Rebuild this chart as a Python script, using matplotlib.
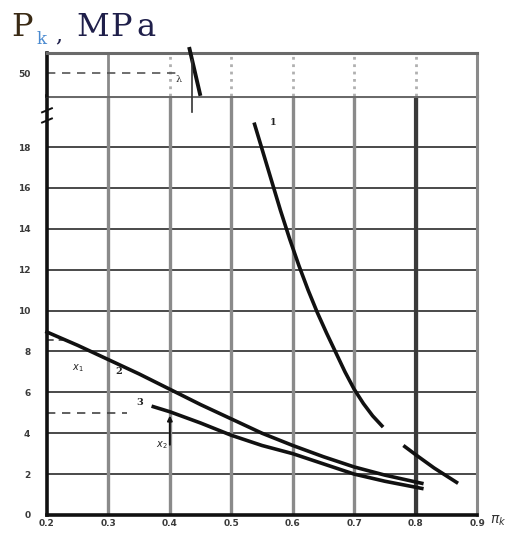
import matplotlib
matplotlib.use("Agg")
import matplotlib.pyplot as plt

# ---- data ----
x_ticks = [0.2, 0.3, 0.4, 0.5, 0.6, 0.7, 0.8, 0.9]
x_tick_labels = ["0.2", "0.3", "0.4", "0.5", "0.6", "0.7", "0.8", "0.9"]
y_ticks = [0, 2, 4, 6, 8, 10, 12, 14, 16, 18]
y_tick_labels = ["0", "2", "4", "6", "8", "10", "12", "14", "16", "18"]
y_upper_ticks = [50]
y_upper_labels = ["50"]

curve1a_x = [0.537, 0.550, 0.565, 0.580, 0.595, 0.610, 0.625, 0.640, 0.655, 0.670, 0.685, 0.700, 0.715, 0.730, 0.747]
curve1a_y = [19.2, 17.9, 16.4, 14.9, 13.5, 12.2, 11.0, 9.9, 8.9, 7.95, 7.0, 6.15, 5.45, 4.85, 4.3]
curve1b_x = [0.780, 0.800, 0.830, 0.869]
curve1b_y = [3.4, 2.95, 2.3, 1.55]

curve2_x = [0.20, 0.25, 0.30, 0.35, 0.40, 0.45, 0.50, 0.55, 0.60, 0.65, 0.70, 0.75, 0.81]
curve2_y = [8.95, 8.3, 7.6, 6.9, 6.15, 5.4, 4.7, 4.0, 3.4, 2.85, 2.35, 1.95, 1.55]

curve3_x = [0.373, 0.40, 0.45, 0.50, 0.55, 0.60, 0.65, 0.70, 0.75, 0.81]
curve3_y = [5.3, 5.05, 4.5, 3.9, 3.4, 3.0, 2.5, 2.0, 1.65, 1.3]

upper_x = [0.432, 0.449]
upper_y = [51.2, 49.0]

# ---- figure ----
fig = plt.figure(figsize=(5.22, 5.35), dpi=100)
ax = fig.add_axes([0.090, 0.0374, 0.824, 0.7832])
axu = fig.add_axes([0.090, 0.8206, 0.824, 0.0803])

grid_h = "#4a4a4a"
grid_v = "#8a8a8a"
tick_kw = dict(fontsize=6.5, fontweight="bold", color="#3a3a3a")

# lower axes
ax.set_xlim(0.2, 0.9)
ax.set_ylim(0, 20.5)
ax.set_xticks(x_ticks)
ax.set_xticklabels(x_tick_labels, **tick_kw)
ax.set_yticks(y_ticks)
ax.set_yticklabels(y_tick_labels, **tick_kw)
ax.tick_params(axis="x", length=0, pad=3)
ax.tick_params(axis="y", length=0, pad=12)
for y in y_ticks[1:]:
    ax.axhline(y, color=grid_h, lw=1.4, zorder=1)
for x in x_ticks[1:-1]:
    ax.axvline(x, color=grid_v, lw=2.4, zorder=1)
ax.axvline(0.8, color="#3a3a3a", lw=3.0, zorder=1)
for s in ["left", "bottom"]:
    ax.spines[s].set_linewidth(2.6)
    ax.spines[s].set_color("#111111")
ax.spines["right"].set_color(grid_v)
ax.spines["right"].set_linewidth(2.2)
ax.spines["top"].set_color("#6a6a6a")
ax.spines["top"].set_linewidth(2.2)

lw_c = 2.6
ax.plot(curve1a_x, curve1a_y, color="#111111", lw=lw_c, zorder=3, solid_capstyle="butt", solid_joinstyle="round")
ax.plot(curve1b_x, curve1b_y, color="#111111", lw=lw_c, zorder=3, solid_capstyle="butt")
ax.plot(curve2_x, curve2_y, color="#111111", lw=lw_c, zorder=3, clip_on=False, solid_joinstyle="round")
ax.plot(curve3_x, curve3_y, color="#111111", lw=lw_c, zorder=3, solid_joinstyle="round")

# dashed guides and arrow
ax.plot([0.2, 0.33], [5.0, 5.0], color="#444444", lw=1.2, ls=(0, (5, 4)), zorder=2)
ax.plot([0.2, 0.235], [8.55, 8.55], color="#444444", lw=1.2, ls=(0, (4, 3)), zorder=2)
ax.annotate("", xy=(0.4, 5.0), xytext=(0.4, 3.3),
            arrowprops=dict(arrowstyle="-|>", color="#111111", lw=1.4, mutation_scale=7), zorder=4)

# curve labels
lab_kw = dict(fontsize=7, family="DejaVu Serif", color="#222222", fontweight="bold")
ax.text(0.562, 19.1, "1", **lab_kw)
ax.text(0.312, 6.9, "2", **lab_kw)
ax.text(0.345, 5.4, "3", **lab_kw)
ax.text(0.240, 7.1, "$x_1$", fontsize=7, color="#222222")
ax.text(0.377, 3.3, "$x_2$", fontsize=7, color="#222222")

# break marks on left spine
for dy in (-0.25, 0.25):
    ax.plot([0.192, 0.208], [19.55 + dy - 0.1, 19.55 + dy + 0.1], color="#111111",
            lw=1.4, clip_on=False, zorder=5)

# upper axes
axu.set_xlim(0.2, 0.9)
axu.set_ylim(48.9, 51.0)
axu.set_xticks(x_ticks[1:-1])
axu.set_xticklabels([])
axu.set_yticks(y_upper_ticks)
axu.set_yticklabels(y_upper_labels, **tick_kw)
axu.tick_params(length=0, pad=12)
for i, x in enumerate(x_ticks[1:-1]):
    axu.axvline(x, color="#b0b0b0" if i else grid_v, lw=2.0, ls="-" if i == 0 else ":", zorder=1)
axu.spines["left"].set_linewidth(2.6)
axu.spines["left"].set_color("#111111")
axu.spines["bottom"].set_visible(False)
axu.spines["top"].set_color("#6a6a6a")
axu.spines["top"].set_linewidth(2.2)
axu.spines["right"].set_color(grid_v)
axu.spines["right"].set_linewidth(2.2)
axu.plot([0.2, 0.41], [50, 50], color="#555555", lw=1.2, ls=(0, (5, 4)), zorder=2)
axu.plot(upper_x, upper_y, color="#111111", lw=2.8, clip_on=False, zorder=3)
axu.plot([0.436, 0.436], [50.65, 48.9], color="#333333", lw=1.2, zorder=3)
ax.plot([0.436, 0.436], [20.5, 19.7], color="#333333", lw=1.2, zorder=3)
axu.text(0.410, 49.6, "λ", fontsize=7, color="#333333", family="DejaVu Serif")

# axis titles
fig.text(11 / 522, 1 - 36 / 535, "P", fontsize=23, family="DejaVu Serif", color="#3a2a14")
fig.text(37 / 522, 1 - 44 / 535, "k", fontsize=12, family="DejaVu Serif", color="#4a8ad0")
fig.text(55 / 522, 1 - 41 / 535, ",", fontsize=16, family="DejaVu Serif", color="#1f1f4a")
fig.text(76 / 522, 1 - 36 / 535, "M", fontsize=23, family="DejaVu Serif", color="#1f1f4a")
fig.text(110 / 522, 1 - 36 / 535, "P", fontsize=23, family="DejaVu Serif", color="#1f1f4a")
fig.text(136 / 522, 1 - 36 / 535, "a", fontsize=23, family="DejaVu Serif", color="#1f1f4a")
fig.text(490 / 522, 1 - 524 / 535, "$\\pi_k$", fontsize=10, color="#333333")

fig.savefig("out.png", dpi=100)
